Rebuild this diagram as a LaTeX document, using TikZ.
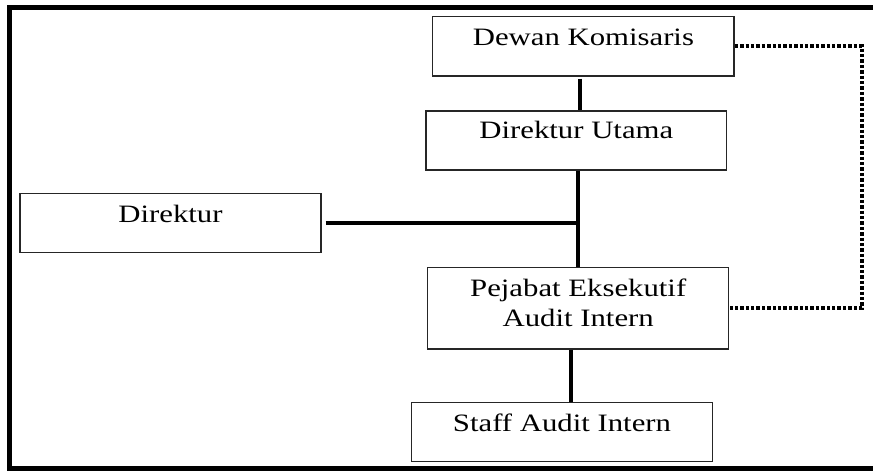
\documentclass[tikz,border=0pt]{standalone}
\usepackage{fontspec}
\usepackage{graphicx}
\setmainfont{Liberation Serif}
\newcommand{\wtxt}[1]{\scalebox{1.23}[1]{#1}}
\begin{document}
\begin{tikzpicture}[x=1pt,y=-1pt,
  box/.style={draw=black!85,line width=1.3pt,rectangle,inner sep=0pt},
  lbl/.style={anchor=base,inner sep=0pt,font=\fontsize{25}{30}\selectfont},
  conn/.style={line width=3.6pt,black},
  dotline/.style={line width=4pt,black,dash pattern=on 3.4pt off 2pt}]
\clip (0,0) rectangle (873,471);
\fill[white] (0,0) rectangle (873,471);
% outer frame
\draw[line width=5pt] (9,7.5) rectangle (890,468);
% boxes
\node[box,minimum width=301.3pt,minimum height=59.3pt] (dk) at (583.4,46.3) {};
\node[box,minimum width=300.7pt,minimum height=59pt] (du) at (576.3,140.5) {};
\node[box,minimum width=301pt,minimum height=59pt] (dr) at (170.5,222.8) {};
\node[box,minimum width=301pt,minimum height=81.7pt] (pj) at (578.2,308.2) {};
\node[box,minimum width=300.6pt,minimum height=59pt] (st) at (562,432.2) {};
% labels
\node[lbl] (tdk) at (583.4,45) {\wtxt{Dewan Komisaris}};
\node[lbl] (tdu) at (576.3,138) {\wtxt{Direktur Utama}};
\node[lbl] (tdr) at (170.5,222.7) {\wtxt{Direktur}};
\node[lbl] (tpj1) at (578.2,296.7) {\wtxt{Pejabat Eksekutif}};
\node[lbl] (tpj2) at (578.2,326) {\wtxt{Audit Intern}};
\node[lbl] (tst) at (562,431) {\wtxt{Staff Audit Intern}};
% connectors
\coordinate (dc) at (862,0);
\draw[conn] ([xshift=-3.4pt,yshift=-2pt]dk.south) -- ([xshift=-3.4pt]dk.south |- du.north);
\draw[conn] (pj.north |- du.south) -- (pj.north);
\draw[conn] ([xshift=4pt]dr.east) -- (pj.north |- dr.east);
\draw[conn] ([xshift=-7pt]pj.south) -- ([xshift=-7pt]pj.south |- st.north);
\draw[dotline] (dk.east) -- (dk.east -| dc) -- (pj.east -| dc) -- ([xshift=1pt]pj.east);
\end{tikzpicture}
\end{document}
